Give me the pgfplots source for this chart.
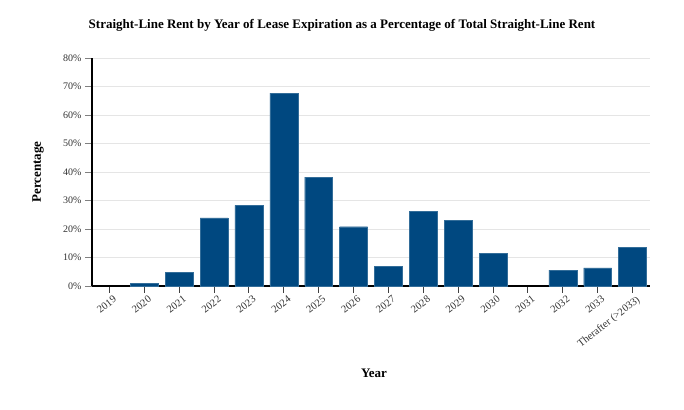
\documentclass[border=0pt]{standalone}
\usepackage{pgfplots}
\pgfplotsset{compat=1.18}
\usepackage{fontspec}
\setmainfont{Liberation Serif}
\definecolor{barblue}{RGB}{0,72,128}
\definecolor{gridgray}{RGB}{229,229,229}
\definecolor{ticktext}{RGB}{50,50,50}
\begin{document}
\begin{tikzpicture}
\path[use as bounding box] (0pt,0pt) rectangle (684pt,409pt);
\begin{axis}[
  at={(92pt,123pt)}, anchor=south west,
  scale only axis, width=558pt, height=228pt,
  xmin=-0.5, xmax=15.5, ymin=0, ymax=80,
  axis x line*=bottom, axis y line*=left,
  axis line style={black, line width=1.2pt},
  xtick={0,...,15},
  xticklabels={2019,2020,2021,2022,2023,2024,2025,2026,2027,2028,2029,2030,2031,2032,2033,Therafter (>2033)},
  x tick label style={rotate=38, anchor=north east, font=\fontsize{10.5}{11}\selectfont, text=ticktext, inner sep=0.5pt, yshift=-3pt, xshift=2pt},
  ytick={0,10,...,80},
  yticklabel={\pgfmathprintnumber{\tick}\%},
  y tick label style={font=\fontsize{10}{12}\selectfont, text=ticktext},
  /pgf/number format/assume math mode=true,
  ymajorgrids, grid style={gridgray, line width=0.8pt},
  tick align=outside,
  major tick length=7pt,
  every tick/.style={black!75, line width=1.1pt},
  major y tick style={gray, line width=0.8pt},
  clip=false,
]
\addplot[ybar, bar width=0.8, bar shift=0pt, fill=barblue, draw=barblue!80!white, line width=0.3pt] coordinates {
(1,0.9) (2,4.9) (3,23.9) (4,28.3) (5,67.7) (6,38.2) (7,20.8) (8,7.0) (9,26.2) (10,23.0) (11,11.5) (13,5.6) (14,6.4) (15,13.6)
};
\end{axis}
\node[font=\bfseries\fontsize{13}{15}\selectfont] at (342pt,384pt) {Straight-Line Rent by Year of Lease Expiration as a Percentage of Total Straight-Line Rent};
\node[font=\bfseries\fontsize{13}{15}\selectfont, rotate=90] at (38pt,237pt) {Percentage};
\node[font=\bfseries\fontsize{13}{15}\selectfont] at (374pt,36pt) {Year};
\end{tikzpicture}
\end{document}
